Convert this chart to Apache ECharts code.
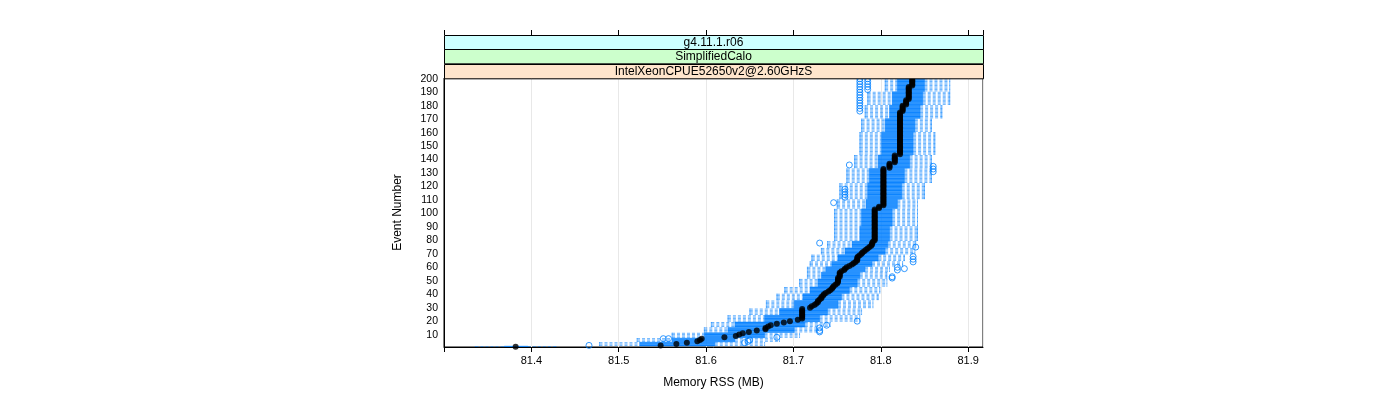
<!DOCTYPE html>
<html><head><meta charset="utf-8">
<script src="https://cdn.jsdelivr.net/npm/echarts@6/dist/echarts.min.js"></script>
<style>html,body{margin:0;padding:0;background:#fff}#c{width:1400px;height:400px}</style>
</head><body><div id="c"></div>
<script>
// ---- data ----
const stripLabels = ['g4.11.1.r06', 'SimplifiedCalo', 'IntelXeonCPUE52650v2@2.60GHzS'];
const xTickValues = [81.4, 81.5, 81.6, 81.7, 81.8, 81.9];
const yTickValues = [10,20,30,40,50,60,70,80,90,100,110,120,130,140,150,160,170,180,190,200];

// median Memory RSS per event 1..200
const medianMB = [
81.382,81.548,81.566,81.578,81.590,81.593,81.595,81.621,81.634,81.638,
81.642,81.649,81.658,81.668,81.668,81.671,81.674,81.681,81.689,81.696,
81.705,81.710,81.710,81.710,81.710,81.710,81.710,81.710,81.710,81.719,
81.721,81.724,81.726,81.728,81.728,81.730,81.732,81.732,81.734,81.735,
81.737,81.740,81.742,81.744,81.745,81.746,81.748,81.750,81.751,81.751,
81.751,81.751,81.753,81.753,81.753,81.753,81.755,81.758,81.759,81.761,
81.764,81.767,81.769,81.771,81.773,81.773,81.773,81.774,81.776,81.778,
81.779,81.781,81.783,81.785,81.787,81.789,81.790,81.790,81.791,81.793,
81.793,81.793,81.793,81.793,81.793,81.793,81.793,81.793,81.793,81.793,
81.793,81.793,81.793,81.793,81.793,81.793,81.793,81.793,81.793,81.793,
81.793,81.793,81.793,81.798,81.798,81.803,81.803,81.803,81.803,81.803,
81.803,81.803,81.803,81.803,81.803,81.803,81.803,81.803,81.803,81.803,
81.803,81.803,81.803,81.803,81.803,81.803,81.803,81.803,81.803,81.803,
81.803,81.803,81.803,81.810,81.810,81.810,81.810,81.816,81.816,81.816,
81.816,81.816,81.816,81.822,81.822,81.822,81.822,81.822,81.822,81.822,
81.822,81.822,81.822,81.822,81.822,81.822,81.822,81.822,81.822,81.822,
81.822,81.822,81.822,81.822,81.822,81.822,81.822,81.822,81.822,81.822,
81.822,81.822,81.822,81.822,81.822,81.825,81.825,81.825,81.825,81.825,
81.829,81.829,81.829,81.829,81.832,81.832,81.832,81.832,81.832,81.832,
81.832,81.832,81.832,81.832,81.836,81.836,81.836,81.836,81.836,81.836
];

// runs of consecutive events sharing the same box / whisker limits
const blockLastEvent = [1,4,7,11,15,19,24,29,35,40,45,51,56,60,64,69,74,79,90,103,110,122,133,143,160,170,180,190,200];
const whiskerLowMB  = [81.336,81.478,81.521,81.561,81.598,81.606,81.625,81.650,81.669,81.681,81.690,81.707,81.716,81.716,81.719,81.721,81.732,81.739,81.747,81.747,81.750,81.753,81.761,81.770,81.776,81.778,81.782,81.785,81.805];
const boxLowMB      = [81.369,81.524,81.561,81.598,81.625,81.633,81.667,81.684,81.701,81.711,81.719,81.728,81.732,81.737,81.744,81.751,81.759,81.767,81.776,81.778,81.783,81.785,81.787,81.797,81.801,81.805,81.810,81.813,81.819];
const boxHighMB     = [81.396,81.610,81.633,81.667,81.701,81.713,81.730,81.739,81.751,81.755,81.764,81.773,81.776,81.782,81.790,81.797,81.805,81.808,81.810,81.813,81.819,81.824,81.827,81.833,81.837,81.839,81.845,81.848,81.850];
const whiskerHighMB = [81.428,81.667,81.684,81.707,81.727,81.742,81.776,81.778,81.791,81.797,81.799,81.807,81.807,81.810,81.825,81.827,81.839,81.840,81.842,81.842,81.842,81.850,81.858,81.858,81.862,81.858,81.870,81.879,81.879];

// outliers
const outlierEvent = [2,4,5,6,7,7,8,12,13,15,17,20,52,53,58,59,60,64,66,68,75,78,108,112,114,116,118,131,133,135,136,
  176,178,180,182,184,186,188,190,192,194,196,198,200,192,194,196,198,200];
const outlierMB = [81.466,81.644,81.648,81.650,81.551,81.557,81.681,81.730,81.730,81.730,81.738,81.773,81.813,81.813,81.819,81.827,81.819,81.837,81.837,81.837,81.840,81.730,81.746,81.759,81.759,81.759,81.759,81.860,81.860,81.860,81.764,
  81.776,81.776,81.776,81.776,81.776,81.776,81.776,81.776,81.776,81.776,81.776,81.776,81.776,81.785,81.785,81.785,81.785,81.785];

// ---- build chart ----
const boxData = [];
let b = 0;
for (let i = 0; i < medianMB.length; i++) {
  const ev = i + 1;
  while (ev > blockLastEvent[b]) b++;
  boxData.push([ev, whiskerLowMB[b], boxLowMB[b], medianMB[i], boxHighMB[b], whiskerHighMB[b]]);
}
const medData = medianMB.map((v, i) => [v, i + 1]);
const outData = outlierMB.map((v, i) => [v, outlierEvent[i]]);

const FONT = 'Liberation Sans, Arial, sans-serif';
const L = 444, R = 983, T = 78, B = 347;
const BLUE = '#0080ff';
const WHISK = 'rgba(0,128,255,0.75)';

const chart = echarts.init(document.getElementById('c'), null, {renderer: 'canvas'});
const stripColors = ['#ccffff', '#ccffcc', '#ffe5cc'];
const stripH = (T - 35) / 3;
const graphics = [];
stripLabels.forEach((s, i) => {
  const y0 = 35 + i * stripH;
  graphics.push({type: 'rect', shape: {x: L + 0.5, y: Math.round(y0) + 0.5, width: R - L, height: stripH},
    style: {fill: stripColors[i], stroke: '#000', lineWidth: 1}, z: 10});
  graphics.push({type: 'text', x: (L + R) / 2, y: y0 + stripH / 2 + 0.5,
    style: {text: s, font: '12px ' + FONT, fill: '#000', align: 'center', verticalAlign: 'middle'}, z: 11});
});

chart.setOption({
  animation: false,
  backgroundColor: '#fff',
  textStyle: {fontFamily: FONT},
  grid: {left: L, right: 1400 - R, top: T, bottom: 400 - B, show: true, borderColor: '#000', borderWidth: 1},
  xAxis: [{
    type: 'value', min: 81.3, max: 81.917, interval: 0.1,
    name: 'Memory RSS (MB)', nameLocation: 'middle', nameGap: 30,
    nameTextStyle: {fontSize: 12, color: '#000', fontFamily: FONT},
    axisLine: {show: true, lineStyle: {color: '#000'}},
    axisTick: {show: true, length: 5, lineStyle: {color: '#000'}},
    axisLabel: {fontSize: 11, color: '#000', margin: 8, fontFamily: FONT,
      formatter: v => { const s = v.toFixed(1); return xTickValues.some(t => t.toFixed(1) === s) ? s : ''; }},
    splitLine: {show: true, lineStyle: {color: '#e8e8e8', width: 1}}
  }, {
    type: 'value', min: 81.3, max: 81.917, interval: 0.1, position: 'top', offset: T - 35,
    axisLine: {show: false}, axisTick: {show: true, length: 5, lineStyle: {color: '#000'}},
    axisLabel: {show: false}, splitLine: {show: false}
  }],
  yAxis: {
    type: 'value', min: 0.8, max: 200.6,
    name: 'Event Number', nameLocation: 'middle', nameGap: 40, nameRotate: 90,
    nameTextStyle: {fontSize: 12, color: '#000', fontFamily: FONT},
    axisLine: {show: true, lineStyle: {color: '#000'}},
    axisTick: {show: false},
    axisLabel: {fontSize: 10.5, color: '#000', margin: 6, fontFamily: FONT, customValues: yTickValues, formatter: v => String(v)},
    splitLine: {show: false}
  },
  graphic: graphics,
  series: [{
    type: 'custom',
    clip: true,
    encode: {x: [1, 2, 3, 4, 5], y: 0},
    data: boxData,
    renderItem: function (params, api) {
      const e = api.value(0);
      const y = api.coord([api.value(3), e])[1];
      const xLo = api.coord([api.value(1), e])[0];
      const xQ1 = api.coord([api.value(2), e])[0];
      const xQ3 = api.coord([api.value(4), e])[0];
      const xHi = api.coord([api.value(5), e])[0];
      const h = Math.abs(api.size([0, 1])[1]);
      const bh = h * 0.75;
      return {type: 'group', children: [
        {type: 'line', shape: {x1: xLo, y1: y, x2: xQ1, y2: y}, style: {stroke: WHISK, lineWidth: 0.8, lineDash: [3, 2]}},
        {type: 'line', shape: {x1: xQ3, y1: y, x2: xHi, y2: y}, style: {stroke: WHISK, lineWidth: 0.8, lineDash: [3, 2]}},
        {type: 'line', shape: {x1: xLo, y1: y - bh / 2, x2: xLo, y2: y + bh / 2}, style: {stroke: WHISK, lineWidth: 1}},
        {type: 'line', shape: {x1: xHi, y1: y - bh / 2, x2: xHi, y2: y + bh / 2}, style: {stroke: WHISK, lineWidth: 1}},
        {type: 'rect', shape: {x: xQ1, y: y - bh / 2, width: xQ3 - xQ1, height: bh}, style: {fill: '#1a88ff', stroke: BLUE, lineWidth: 0.5}}
      ]};
    },
    z: 2
  }, {
    type: 'scatter', data: outData, symbol: 'circle', symbolSize: 6,
    itemStyle: {color: 'rgba(255,255,255,0)', borderColor: BLUE, borderWidth: 1}, z: 3, clip: true
  }, {
    type: 'scatter', data: medData, symbol: 'circle', symbolSize: 6,
    itemStyle: {color: '#000'}, z: 4, clip: true
  }]
});
</script></body></html>
